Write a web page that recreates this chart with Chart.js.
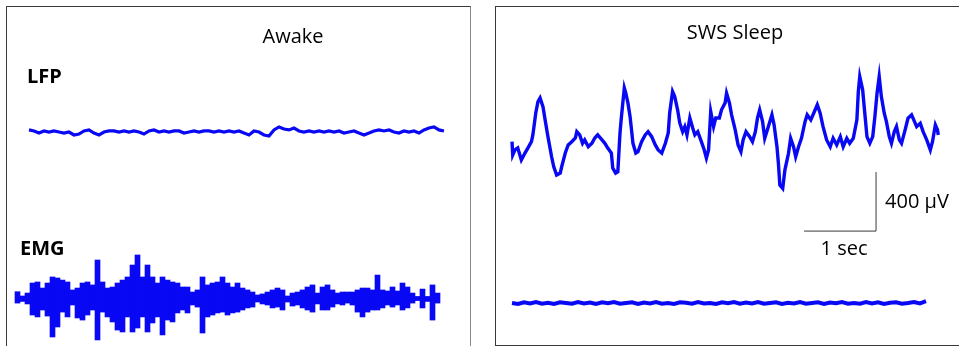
<!DOCTYPE html>
<html><head><meta charset="utf-8">
<script src="https://cdn.jsdelivr.net/npm/chart.js@4.4.1/dist/chart.umd.min.js"></script>
<style>
html,body{margin:0;padding:0;background:#fff;}
body{width:959px;height:346px;overflow:hidden;position:relative;font-family:"Open Sans",sans-serif;}
.panel{position:absolute;box-sizing:border-box;border:1px solid #3a3a3a;}
#pL{left:6px;top:6px;width:465px;height:380px;border-right-color:#8a8a8a;}
#pR{left:495px;top:6px;width:500px;height:340px;}
canvas{position:absolute;}
.t{position:absolute;white-space:nowrap;color:#000;font-size:20px;line-height:1;transform:translate(-50%,-50%);}
.b{font-weight:bold;font-size:20px;transform:translate(0,-50%);}
</style></head><body>
<div class="panel" id="pL"></div>
<div class="panel" id="pR"></div>
<canvas id="cL" width="462" height="339" style="left:7px;top:7px"></canvas>
<canvas id="cR" width="463" height="338" style="left:496px;top:7px"></canvas>
<div class="t" style="left:293px;top:36px">Awake</div>
<div class="t" style="left:735px;top:32px">SWS Sleep</div>
<div class="t b" style="left:27px;top:76px">LFP</div>
<div class="t b" style="left:20px;top:248px">EMG</div>
<script>
// ---- data (time in seconds, amplitude in µV) ----
const PANEL_TITLES = ["Awake", "SWS Sleep"];
const TRACE_LABELS = ["LFP", "EMG"];

// Awake LFP: uniform samples
const AWAKE_LFP_T0 = 0.1944, AWAKE_LFP_DT = 0.069444;
const AWAKE_LFP_UV = [14,7,-7,7,0,7,0,-7,0,-20,-14,7,14,-7,-20,0,7,7,0,7,0,7,0,-14,7,14,0,7,0,7,7,-7,0,7,0,7,7,0,7,0,7,0,7,-7,-20,7,0,-20,-27,14,34,20,14,27,7,0,7,0,7,0,7,0,7,-7,0,7,-7,-20,-7,7,14,7,14,0,-7,7,0,7,-7,14,27,34,14,7];

// Awake EMG: min/max envelope per bin
const AWAKE_EMG_T0 = 0.034722, AWAKE_EMG_DT = 0.069444;
const AWAKE_EMG_HI = [46,17,37,105,112,71,105,146,139,125,112,58,71,105,112,92,261,112,71,78,105,125,146,227,295,146,227,146,105,146,125,112,105,78,78,44,58,146,92,105,112,146,105,78,105,71,58,44,24,31,44,58,71,58,17,37,44,58,78,92,37,78,92,58,37,44,44,44,58,71,71,58,159,58,51,78,51,105,78,37,14,64,14,92,37];
const AWAKE_EMG_LO = [-31,-20,-37,-112,-125,-78,-119,-261,-193,-92,-125,-44,-132,-146,-112,-78,-281,-92,-125,-159,-214,-227,-125,-227,-200,-125,-227,-166,-125,-247,-146,-159,-98,-78,-98,-44,-58,-234,-125,-112,-98,-92,-112,-98,-92,-78,-64,-58,-24,-37,-44,-64,-58,-78,-24,-51,-44,-64,-78,-92,-37,-78,-78,-58,-37,-44,-31,-44,-92,-125,-92,-78,-78,-64,-44,-58,-44,-78,-64,-31,-14,-64,-20,-146,-31];

// SWS LFP: traced points
const SWS_LFP_T = [0.00,0.01,0.04,0.08,0.13,0.18,0.22,0.27,0.29,0.33,0.36,0.39,0.43,0.46,0.50,0.55,0.58,0.62,0.67,0.69,0.74,0.78,0.83,0.88,0.90,0.94,0.98,1.01,1.06,1.11,1.15,1.19,1.25,1.29,1.33,1.38,1.40,1.44,1.47,1.50,1.52,1.56,1.58,1.61,1.64,1.66,1.68,1.72,1.75,1.80,1.85,1.89,1.94,1.99,2.03,2.08,2.13,2.17,2.19,2.23,2.26,2.30,2.33,2.37,2.40,2.43,2.47,2.51,2.54,2.58,2.63,2.67,2.70,2.73,2.76,2.80,2.83,2.88,2.91,2.96,2.98,3.02,3.05,3.10,3.14,3.18,3.21,3.25,3.30,3.34,3.38,3.41,3.44,3.48,3.51,3.56,3.61,3.64,3.68,3.70,3.72,3.76,3.79,3.84,3.87,3.91,3.94,3.98,4.02,4.07,4.10,4.15,4.19,4.24,4.28,4.32,4.37,4.42,4.46,4.51,4.56,4.60,4.65,4.69,4.74,4.79,4.81,4.83,4.87,4.90,4.93,4.97,5.01,5.04,5.07,5.10,5.13,5.17,5.20,5.24,5.27,5.31,5.34,5.38,5.41,5.46,5.50,5.55,5.58,5.62,5.67,5.71,5.76,5.81,5.84,5.88,5.91,5.92];
const SWS_LFP_UV = [36,-54,-20,-7,-88,-41,-7,36,82,231,306,333,274,184,68,-66,-134,-190,-177,-134,-41,14,36,61,104,82,25,48,2,25,61,82,48,25,-7,-41,-143,-177,-168,95,206,401,367,299,206,116,25,-41,-32,36,82,104,70,14,-20,-41,25,95,231,376,342,252,163,104,138,82,197,129,82,104,36,-20,-75,-20,240,138,197,197,252,299,365,299,218,116,14,-32,48,104,70,36,104,197,252,172,59,138,218,150,2,-111,-258,-281,-156,-43,59,2,-66,2,59,172,218,184,229,286,229,138,48,2,59,14,70,2,59,25,59,184,376,478,388,229,70,25,70,206,365,478,342,229,172,70,25,104,138,48,25,116,195,218,184,138,161,104,48,-20,36,150,116,82];

// SWS EMG: uniform samples
const SWS_EMG_T0 = 0.0, SWS_EMG_DT = 0.083333;
const SWS_EMG_UV = [0,-7,5,-3,7,-5,2,-7,5,0,-5,7,-3,3,-7,5,-2,7,-5,0,5,-7,3,-3,7,-5,0,-7,5,2,-5,7,-3,0,-7,5,-2,7,-5,3,-3,7,-5,0,5,-7,2,-3,7,-5,0,5,-7,3,-2,7,-5,0,-5,7,-3,5,-7,2,5,-5,0,7,-3,12];

// scale bar
const SCALE_BAR_T0 = 4.056, SCALE_BAR_LEVEL = -570, SCALE_BAR_SEC = 1, SCALE_BAR_UV = 400;
const SCALE_TIME_LABEL = "1 sec", SCALE_AMP_LABEL = "400 µV";

// ---- styling ----
const TRACE = "rgb(8,8,245)";
const uni = (t0, dt, arr) => arr.map((v, i) => ({x: t0 + i * dt, y: v}));
const hidden = (min, max, extra) => Object.assign({type: "linear", display: false, min, max}, extra || {});
const baseOpts = {
  responsive: false, animation: false, events: [],
  layout: {padding: 0},
  plugins: {legend: {display: false}, tooltip: {enabled: false}},
  elements: {point: {radius: 0}, line: {tension: 0}}
};

new Chart(document.getElementById("cL"), {
  type: "line",
  data: {datasets: [
    {type: "line", data: uni(AWAKE_LFP_T0, AWAKE_LFP_DT, AWAKE_LFP_UV), yAxisID: "yLFP",
     borderColor: TRACE, borderWidth: 3.2, pointRadius: 0},
    {type: "bar", data: AWAKE_EMG_HI.map((h, i) => ({x: AWAKE_EMG_T0 + i * AWAKE_EMG_DT, y: [AWAKE_EMG_LO[i], h]})),
     yAxisID: "yEMG", backgroundColor: TRACE, borderWidth: 0, barPercentage: 1, categoryPercentage: 1}
  ]},
  options: Object.assign({}, baseOpts, {
    scales: {
      x: hidden(-0.1111, 6.3056, {offset: false}),
      yLFP: hidden(-1450.8, 847.5, {position: "left"}),
      yEMG: hidden(-322.0, 1976.3, {position: "left"})
    }
  })
});

const scaleBarLabels = {
  id: "scaleBarLabels",
  afterDatasetsDraw(chart) {
    const {ctx, scales} = chart;
    const x0 = scales.x.getPixelForValue(SCALE_BAR_T0);
    const x1 = scales.x.getPixelForValue(SCALE_BAR_T0 + SCALE_BAR_SEC);
    const y0 = scales.yLFP.getPixelForValue(SCALE_BAR_LEVEL);
    const y1 = scales.yLFP.getPixelForValue(SCALE_BAR_LEVEL + SCALE_BAR_UV);
    ctx.save();
    ctx.fillStyle = "#000";
    ctx.font = '20px "Open Sans"';
    ctx.textBaseline = "middle";
    ctx.textAlign = "center";
    ctx.fillText(SCALE_TIME_LABEL, (x0 + x1) / 2 + 4, y0 + 18);
    ctx.textAlign = "left";
    ctx.fillText(SCALE_AMP_LABEL, x1 + 9, (y0 + y1) / 2 + 1);
    ctx.restore();
  }
};

new Chart(document.getElementById("cR"), {
  type: "line",
  data: {datasets: [
    {data: SWS_LFP_T.map((t, i) => ({x: t, y: SWS_LFP_UV[i]})), yAxisID: "yLFP",
     borderColor: TRACE, borderWidth: 3.4, pointRadius: 0},
    {data: uni(SWS_EMG_T0, SWS_EMG_DT, SWS_EMG_UV), yAxisID: "yEMG",
     borderColor: TRACE, borderWidth: 4, pointRadius: 0},
    {data: [{x: SCALE_BAR_T0, y: SCALE_BAR_LEVEL}, {x: SCALE_BAR_T0 + SCALE_BAR_SEC, y: SCALE_BAR_LEVEL},
            {x: SCALE_BAR_T0 + SCALE_BAR_SEC, y: SCALE_BAR_LEVEL + SCALE_BAR_UV}],
     yAxisID: "yLFP", borderColor: "#3a3a3a", borderWidth: 1, pointRadius: 0}
  ]},
  options: Object.assign({}, baseOpts, {
    scales: {
      x: hidden(-0.2222, 6.2083),
      yLFP: hidden(-1342.3, 949.2, {position: "left"}),
      yEMG: hidden(-284.7, 2006.8, {position: "left"})
    }
  }),
  plugins: [scaleBarLabels]
});
</script>
</body></html>
